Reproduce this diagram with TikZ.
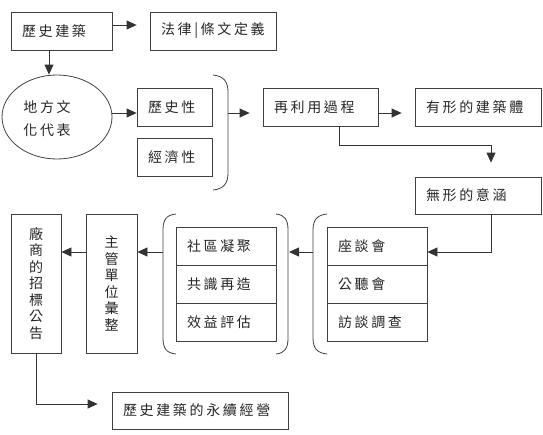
\documentclass[tikz,border=0pt]{standalone}
\usepackage{fontspec}
\newfontfamily\cjk[LetterSpace=19]{Noto Sans CJK TC}
\newfontfamily\cjkv{Noto Sans CJK TC}
\usetikzlibrary{arrows.meta,shapes.geometric,calc}
\begin{document}
\begin{tikzpicture}[x=1pt,y=-1pt,
  line width=0.8pt,
  box/.style={draw=black!75, rectangle, inner xsep=11pt, inner ysep=0pt, align=left,
    font=\cjk\fontsize{14}{16}\selectfont, text=black!85},
  vbox/.style={draw=black!75, rectangle, inner sep=0pt, align=center,
    font=\cjkv\fontsize{14}{16.5}\selectfont, text=black!85},
  arr/.style={draw=black!80, -{Triangle[length=10pt,width=9pt]}},
  brk/.style={draw=black!75},
]
\useasboundingbox (0,0) rectangle (543,434);
% top row
\node[box, text width=79pt, minimum height=38pt] (hist) at (61.5,31) {歷史建築};
\node[box, text width=104pt, minimum height=38pt] (law) at (213,31) {法律|條文定義};
\node[ellipse, draw=black!75, minimum width=110pt, minimum height=84pt, inner sep=0pt] (local) at (57,117) {};
\node[anchor=west, align=left, inner sep=0pt, font=\cjk\fontsize{14}{23}\selectfont, text=black!85] (localtxt) at (23,118.5) {地方文\\化代表};
\node[box, text width=53pt, minimum height=38pt] (lishi) at (174.5,107) {歷史性};
\node[box, text width=53pt, minimum height=38pt] (jingji) at (174.5,157) {經濟性};
\node[box, text width=93pt, minimum height=38pt] (reuse) at (320.5,107) {再利用過程};
\node[box, text width=104pt, minimum height=38pt] (tangible) at (478,107) {有形的建築體};
\node[box, text width=104pt, minimum height=37pt] (intangible) at (478,195.5) {無形的意涵};
% right group
\node[box, text width=78pt, minimum height=38pt] (zuotan) at (377,246) {座談會};
\node[box, text width=78pt, minimum height=38pt] (gongting) at (377,284) {公聽會};
\node[box, text width=78pt, minimum height=38pt] (fangtan) at (377,322) {訪談調查};
% middle group
\node[box, text width=78pt, minimum height=38pt] (shequ) at (226,246) {社區凝聚};
\node[box, text width=78pt, minimum height=38pt] (gongshi) at (226,284) {共識再造};
\node[box, text width=78pt, minimum height=38pt] (xiaoyi) at (226,322) {效益評估};
% vertical boxes
\node[vbox, minimum width=51pt, minimum height=139pt] (zhuguan) at (111.5,283.5) {主\\管\\單\\位\\彙\\整};
\node[vbox, minimum width=50pt, minimum height=139pt] (changshang) at (36,283.5) {廠\\商\\的\\招\\標\\公\\告};
\node[box, text width=154pt, minimum height=37pt] (yongxu) at (200,410.5) {歷史建築的永續經營};
% brackets
\draw[brk] (213,75) .. controls (224,76) and (228,82) .. (228,92) -- (228,173) .. controls (228,183) and (224,189) .. (213,190);
\draw[brk] (176,214) .. controls (166,215) and (163,220) .. (163,230) -- (163,338) .. controls (163,348) and (166,353) .. (176,354);
\draw[brk] (276,214) .. controls (285,215) and (288,220) .. (288,230) -- (288,338) .. controls (288,348) and (285,353) .. (276,354);
\draw[brk] (327,214) .. controls (317,215) and (313,220) .. (313,230) -- (313,338) .. controls (313,348) and (317,353) .. (327,354);
\coordinate (br1) at (228,113);
\coordinate (br2L) at (163,252);
\coordinate (br2R) at (288,252);
\coordinate (br3L) at (313,252);
% connectors
\draw[arr, shorten >=13pt] ([yshift=6pt]hist.east) -- ([yshift=6pt]law.west);
\draw[arr] ([xshift=-12.5pt]hist.south) -- ([xshift=-12.5pt]hist.south |- local.north);
\draw[arr] ([yshift=4pt]local.east) -- ([yshift=-6pt]lishi.west);
\draw[arr, shorten >=13pt] (br1) -- (reuse.west |- br1);
\draw[arr, shorten >=13pt] ([yshift=-6pt]reuse.east) -- ([yshift=-6pt]tangible.west);
\draw[arr, shorten >=14pt] ([xshift=18.5pt]reuse.south) -- ++(0,19) -| ([xshift=13pt]intangible.north);
\draw[arr] ([xshift=13pt]intangible.south) |- ([yshift=-6pt]zuotan.east);
\draw[arr, shorten >=1pt] (br3L) -- (br2R);
\draw[arr] (br2L) -- (zhuguan.east |- br2L);
\draw[arr] (zhuguan.west |- br2L) -- (changshang.east |- br2L);
\draw[arr, shorten >=14pt] (changshang.south) |- ([yshift=6.5pt]yongxu.west);
\end{tikzpicture}
\end{document}
